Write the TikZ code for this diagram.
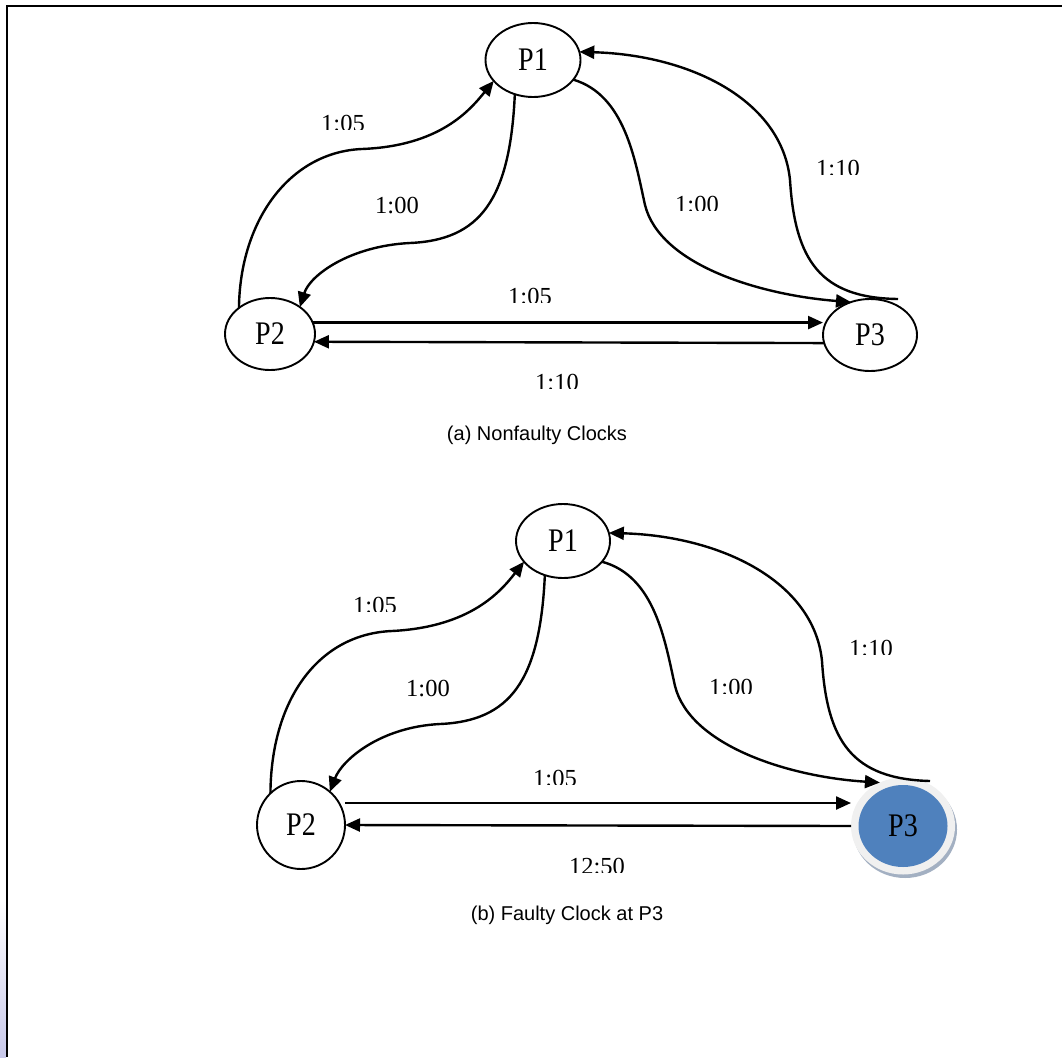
\documentclass[tikz,border=0pt]{standalone}
\usepackage{fontspec}
\setmainfont{Liberation Serif}
\newfontfamily\capfont{Liberation Sans}
\usetikzlibrary{arrows.meta,shapes.geometric}

\definecolor{nodeblue}{HTML}{4F81BD}
\definecolor{ringgrey}{HTML}{F0F0F0}
\definecolor{shadowgrey}{HTML}{A3B0C2}
\definecolor{edgelilac}{RGB}{200,200,234}

% process name, set slightly taller than wide
\newcommand\pname[1]{\scalebox{1.04}[1.22]{#1}}

% label whose lower edge is cut off at a given height
\newcommand\cutlabel[5]{% name, x, baseline y, cut y, text
  \begin{scope}
    \clip (#2-60,#3-45) rectangle (#2+60,#4);
    \node[lab,anchor=base] (#1) at (#2,#3) {#5};
  \end{scope}}

\begin{document}
\begin{tikzpicture}[x=1pt,y=-1pt,
  proc/.style={ellipse,draw,line width=1.9pt,inner sep=0pt,outer sep=0pt,
               font=\fontsize{27}{30}\selectfont},
  lab/.style={inner sep=0pt,font=\fontsize{24.5}{26}\selectfont},
  captext/.style={inner sep=0pt,font=\capfont\fontsize{20}{22}\selectfont},
  msg/.style={line width=2.4pt,-{Triangle[length=15pt,width=13pt]}}]

\useasboundingbox (0,0) rectangle (1062,1057);

% page frame and edge tint
\shade[top color=white,bottom color=edgelilac] (0,900) rectangle (6,1057);
\draw[line width=1.8pt] (1062,6) -- (7,6) -- (7,1057);

% ---------------- (a) nonfaulty clocks ----------------
\node[proc,minimum width=95pt,minimum height=74pt] (p1a) at (533,60) {\pname{P1}};
\node[proc,minimum width=90pt,minimum height=72pt] (p2a) at (270,334) {\pname{P2}};
\node[proc,minimum width=94pt,minimum height=72pt] (p3a) at (870,335) {\pname{P3}};
\coordinate (t3a) at (898,299);

\draw[msg] (p2a.140) .. controls (240,220) and (290,152) .. (362,149)
                     .. controls (440,146) and (470,110) .. (p1a.208);
\draw[msg] (p1a.242) .. controls (510,200) and (480,240) .. (410,243)
                     .. controls (350,246) and (310,275) .. (p2a.42);
\draw[msg] (p1a.334) .. controls (625,95) and (635,160) .. (645,205)
                     .. controls (660,265) and (760,295) .. (p3a.120);
\draw[msg] (t3a) .. controls (820,298) and (795,260) .. (790,180)
                 .. controls (782,100) and (690,55) .. (p1a.10);
\draw[msg] (p2a.15) -- (p2a.15 -| p3a.west);
\draw[msg] (p3a.190) -- (p2a.350);

\cutlabel{la1}{343}{131}{129}{1:05}
\node[lab,anchor=base] (la2) at (397,213) {1:00};
\cutlabel{la3}{697}{212}{210}{1:00}
\cutlabel{la4}{838}{176}{174}{1:10}
\cutlabel{la5}{530}{304}{302}{1:05}
\cutlabel{la6}{557}{390}{388}{1:10}
\node[captext] (capa) at (537,435) {(a) Nonfaulty Clocks};

% ---------------- (b) faulty clock at P3 ----------------
\node[proc,minimum width=94pt,minimum height=74pt] (p1b) at (563,541) {\pname{P1}};
\node[proc,circle,minimum size=88pt] (p2b) at (301,825) {\pname{P2}};
\fill[shadowgrey] (905,829.5) ellipse [x radius=52,y radius=48.5];
\node[ellipse,fill=ringgrey,inner sep=0pt,outer sep=0pt,
      minimum width=104pt,minimum height=97pt] (p3b) at (903,826) {};
\node[ellipse,fill=nodeblue,inner sep=0pt,outer sep=0pt,
      minimum width=89pt,minimum height=82pt,
      font=\fontsize{27}{30}\selectfont] (p3bin) at (p3b.center) {\pname{P3}};
\coordinate (t3b) at (930,781);

\draw[msg] (p2b.134) .. controls (271,700) and (318,634) .. (392,631)
                     .. controls (471,627) and (501,591) .. (p1b.208);
\draw[msg] (p1b.242) .. controls (540,681) and (510,721) .. (440,724)
                     .. controls (380,727) and (342,760) .. (p2b.49);
\draw[msg] (p1b.332) .. controls (655,576) and (665,641) .. (675,686)
                     .. controls (690,746) and (790,777) .. (p3b.118);
\draw[msg] (t3b) .. controls (852,779) and (827,741) .. (822,661)
                 .. controls (814,581) and (720,536) .. (p1b.10);
\draw[msg] ([yshift=22pt]p2b.east) -- ([yshift=22pt]p2b.east -| p3b.west);
\draw[msg] (p3b.west) -- (p2b.east);

\cutlabel{lb1}{375}{613}{611}{1:05}
\node[lab,anchor=base] (lb2) at (428,696) {1:00};
\cutlabel{lb3}{731}{695}{693}{1:00}
\cutlabel{lb4}{871}{656}{654}{1:10}
\cutlabel{lb5}{555}{786}{784}{1:05}
\cutlabel{lb6}{597}{874}{872}{12:50}
\node[captext] (capb) at (567,915) {(b) Faulty Clock at P3};

\end{tikzpicture}
\end{document}
